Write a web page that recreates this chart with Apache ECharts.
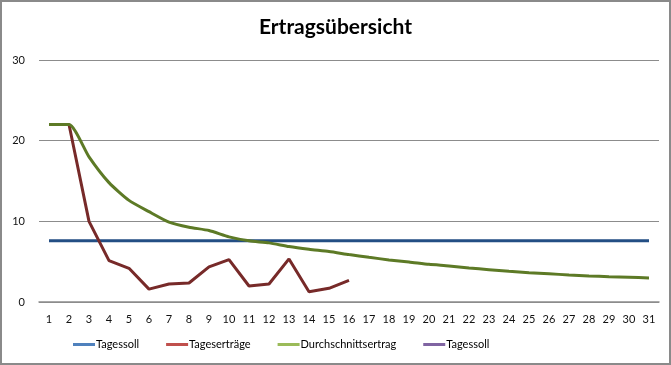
<!DOCTYPE html>
<html>
<head>
<meta charset="utf-8">
<script src="https://cdn.jsdelivr.net/npm/echarts@6/dist/echarts.min.js"></script>
<style>
html,body{margin:0;padding:0;background:#fff;}
#c{width:671px;height:365px;box-sizing:border-box;border:2px solid #8a8a8a;}
</style>
</head>
<body>
<div id="c"></div>
<script>
const titleText = 'Ertragsübersicht';
const days = ['1','2','3','4','5','6','7','8','9','10','11','12','13','14','15','16','17','18','19','20','21','22','23','24','25','26','27','28','29','30','31'];
const tagessoll = [7.58,7.58,7.58,7.58,7.58,7.58,7.58,7.58,7.58,7.58,7.58,7.58,7.58,7.58,7.58,7.58,7.58,7.58,7.58,7.58,7.58,7.58,7.58,7.58,7.58,7.58,7.58,7.58,7.58,7.58,7.58];
const tagesertraege = [22,22,10.0,5.13,4.18,1.6,2.23,2.36,4.35,5.25,1.98,2.23,5.34,1.28,1.7,2.68];
const durchschnitt = [22,22,18.0,14.8,12.6,11.2,9.9,9.27,8.86,8.07,7.58,7.33,6.87,6.53,6.25,5.88,5.54,5.22,4.97,4.67,4.47,4.22,4.01,3.8,3.64,3.5,3.35,3.23,3.14,3.06,2.98];
const tagessoll2 = [];
const yTicks = [0,10,20,30];

const chart = echarts.init(document.getElementById('c'), null, {renderer:'canvas'});
const font = 'Lato, "Open Sans", sans-serif';
chart.setOption({
  animation:false,
  backgroundColor:'#fff',
  title:{
    text:titleText, left:'center', top:10,
    textStyle:{fontFamily:font, fontSize:21, fontWeight:'bold', color:'#000'}
  },
  grid:{left:37, right:10, top:58, bottom:61, containLabel:false},
  legend:{
    bottom:8, left:66, icon:'rect', itemWidth:22, itemHeight:3, itemGap:27,
    textStyle:{fontFamily:font, fontSize:11, color:'#000', padding:[0,0,0,-4]},
    formatter:n=>n.trim(),
    data:[
      {name:'Tagessoll', itemStyle:{color:'#4F81BD'}},
      {name:'Tageserträge', itemStyle:{color:'#C0504D'}},
      {name:'Durchschnittsertrag', itemStyle:{color:'#9BBB59'}},
      {name:'Tagessoll ', itemStyle:{color:'#8064A2'}}
    ]
  },
  xAxis:{
    type:'category', data:days, boundaryGap:true,
    axisLine:{lineStyle:{color:'#8c8c8c', width:1.5}},
    axisTick:{show:false},
    axisLabel:{fontFamily:font, fontSize:11, color:'#111', margin:12, interval:0}
  },
  yAxis:{
    type:'value', min:0, max:30, interval:10,
    axisLine:{show:false}, axisTick:{show:false},
    splitLine:{lineStyle:{color:'#8c8c8c', width:1}},
    axisLabel:{fontFamily:font, fontSize:11, color:'#111', margin:14}
  },
  series:[
    {name:'Tagessoll', type:'line', data:tagessoll, symbol:'none',
     lineStyle:{color:'#234e84', width:3}, itemStyle:{color:'#234e84'}, z:2},
    {name:'Tageserträge', type:'line', data:tagesertraege, symbol:'none',
     lineStyle:{color:'#772a29', width:3}, itemStyle:{color:'#772a29'}, z:3},
    {name:'Durchschnittsertrag', type:'line', data:durchschnitt, symbol:'none', smooth:0.2,
     lineStyle:{color:'#5d7a26', width:3}, itemStyle:{color:'#5d7a26'}, z:4},
    {name:'Tagessoll ', type:'line', data:tagessoll2, symbol:'none',
     lineStyle:{color:'#5c4776', width:3}, itemStyle:{color:'#5c4776'}, z:1}
  ]
});
</script>
</body>
</html>
